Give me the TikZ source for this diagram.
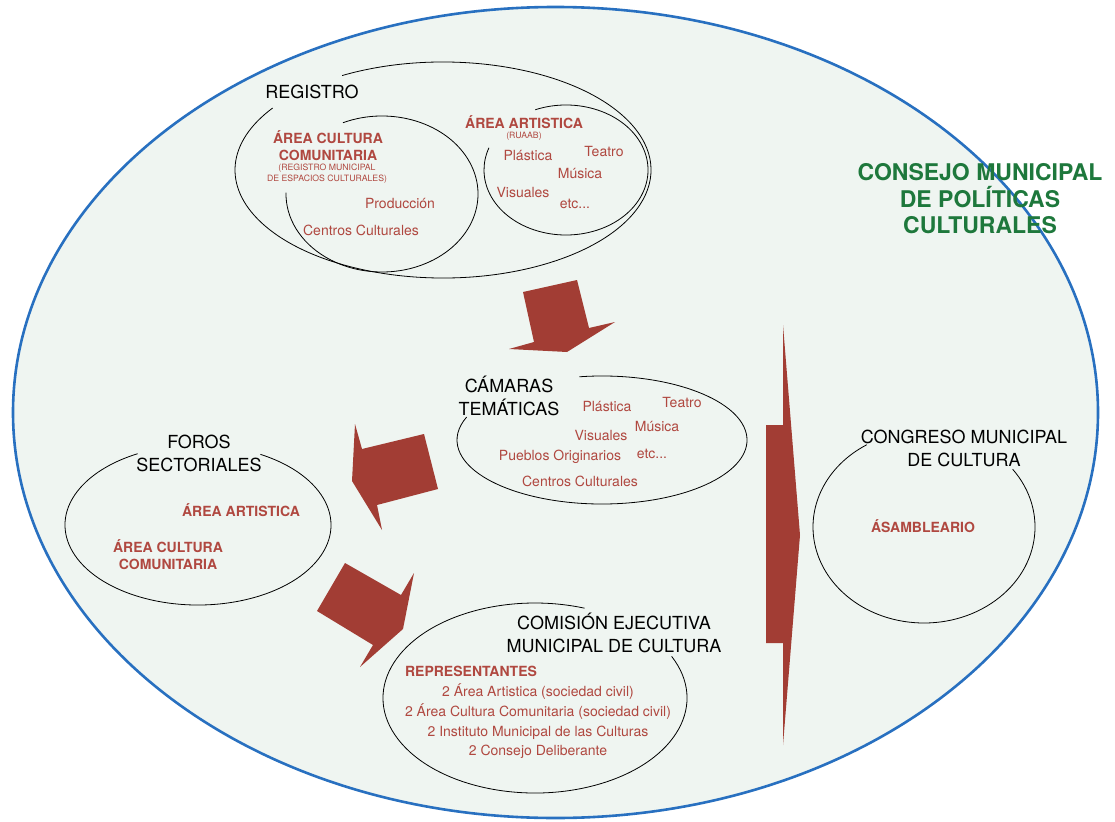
\documentclass[tikz,border=0pt]{standalone}
\usepackage{fontspec}
\setmainfont{TeX Gyre Heros}
\definecolor{consejoFill}{RGB}{239,245,241}
\definecolor{consejoBlue}{RGB}{40,112,192}
\definecolor{flechaRed}{RGB}{162,61,52}
\definecolor{textoRed}{RGB}{176,72,64}
\definecolor{tituloGreen}{RGB}{30,120,60}
\tikzset{
  titulo/.style={inner sep=0pt, align=center, font=\fontsize{18}{23}\selectfont},
  area/.style={inner sep=0pt, align=center, text=textoRed, font=\bfseries\fontsize{14}{17}\selectfont},
  item/.style={inner sep=0pt, align=center, text=textoRed, font=\fontsize{14}{19.7}\selectfont},
  nota/.style={inner sep=0pt, align=center, text=textoRed, font=\fontsize{8.7}{11}\selectfont},
  consejo/.style={inner sep=0pt, align=center, text=tituloGreen, font=\bfseries\fontsize{23}{26.5}\selectfont},
  flecha/.style={fill=flechaRed, draw=none},
  grupo/.style={draw=black, line width=0.8pt},
}
\begin{document}
\begin{tikzpicture}[x=1pt, y=-1pt]
  \useasboundingbox (0,0) rectangle (1115,821);
  \draw[consejoBlue, line width=2.6pt, fill=consejoFill]
    (555.5,412.5) circle [x radius=542.5, y radius=405.5]
  ;
  % grupos
  \coordinate (registro) at (443,170);
  \coordinate (comunitaria) at (382,194);
  \coordinate (artistica) at (566,170);
  \coordinate (camaras) at (602,440);
  \coordinate (foros) at (198,525);
  \coordinate (comision) at (535,698);
  \coordinate (congreso) at (924,527);
  \draw[grupo] (registro) ++(241:208 and 108)
    arc [start angle=241, end angle=575, x radius=208, y radius=108];
  \draw[grupo] (comunitaria) ++(-114:96 and 78)
    arc [start angle=-114, end angle=181, x radius=96, y radius=78];
  \draw[grupo] (artistica) ++(248:82 and 65)
    arc [start angle=248, end angle=560, x radius=82, y radius=65];
  \draw[grupo] (camaras) ++(261:145 and 64)
    arc [start angle=261, end angle=561, x radius=145, y radius=64];
  \draw[grupo] (foros) ++(298:133 and 80)
    arc [start angle=298, end angle=603, x radius=133, y radius=80];
  \draw[grupo] (comision) ++(334:152 and 95)
    arc [start angle=334, end angle=649, x radius=152, y radius=95];
  \draw[grupo] (congreso) ++(323:111 and 96)
    arc [start angle=323, end angle=599, x radius=111, y radius=96];
  % flechas
  \fill[flecha] (523,292) -- (577,280) -- (589,328) -- (615,322) -- (567,352)
    -- (509,349) -- (534,342) -- cycle;
  \fill[flecha] (424,434) -- (438,489) -- (377,505) -- (382,530) -- (352,481)
    -- (355,424) -- (362,449) -- cycle;
  \fill[flecha] (345,563) -- (401,595) -- (414,573) -- (403,629) -- (360,667)
    -- (373,645) -- (317,611) -- cycle;
  \fill[flecha] (766,425) -- (783,425) -- (783,325) -- (800,535) -- (783,745)
    -- (783,643) -- (766,643) -- cycle;
  % registro
  \node[titulo] (registroLabel) at (312,92) {REGISTRO};
  \node[area] (comunitariaLabel) at (328,146) {ÁREA CULTURA\\COMUNITARIA};
  \node[nota] (comunitariaNota) at (327,174) {(REGISTRO MUNICIPAL\\DE ESPACIOS CULTURALES)};
  \node[item] (produccion) at (400,204) {Producción};
  \node[item] (centrosA) at (361,230) {Centros Culturales};
  \node[area] (artisticaLabel) at (524,122) {ÁREA ARTISTICA};
  \node[nota] (ruaab) at (524,136) {(RUAAB)};
  \node[item] (plasticaA) at (528,156) {Plástica};
  \node[item] (teatroA) at (604,152) {Teatro};
  \node[item] (musicaA) at (580,174) {Música};
  \node[item] (visualesA) at (523,193) {Visuales};
  \node[item] (etcA) at (575,204) {etc...};
  % camaras
  \node[titulo] (camarasLabel) at (509,396) {CÁMARAS\\TEMÁTICAS};
  \node[item] (plasticaB) at (607,406) {Plástica};
  \node[item] (teatroB) at (682,402) {Teatro};
  \node[item] (musicaB) at (657,426) {Música};
  \node[item] (visualesB) at (601,435) {Visuales};
  \node[item] (pueblos) at (560,457) {Pueblos Originarios};
  \node[item] (etcB) at (652,454) {etc...};
  \node[item] (centrosB) at (580,481) {Centros Culturales};
  % foros
  \node[titulo] (forosLabel) at (199,453) {FOROS\\SECTORIALES};
  \node[area] (forosArtistica) at (241,510) {ÁREA ARTISTICA};
  \node[area] (forosComunitaria) at (168,555) {ÁREA CULTURA\\COMUNITARIA};
  % comision
  \node[titulo] (comisionLabel) at (614,633) {COMISIÓN EJECUTIVA\\MUNICIPAL DE CULTURA};
  \node[area] (representantes) at (471,671) {REPRESENTANTES};
  \node[item] (representantesLista) at (538,721.5) {2 Área Artistica (sociedad civil)\\
    2 Área Cultura Comunitaria (sociedad civil)\\
    2 Instituto Municipal de las Culturas\\
    2 Consejo Deliberante};
  % congreso
  \node[titulo] (congresoLabel) at (964,448) {CONGRESO MUNICIPAL\\DE CULTURA};
  \node[area] (asamblea) at (923,526) {ÁSAMBLEARIO};
  \node[consejo] (consejoLabel) at (980,199) {CONSEJO MUNICIPAL\\DE POLÍTICAS\\CULTURALES};
\end{tikzpicture}
\end{document}
